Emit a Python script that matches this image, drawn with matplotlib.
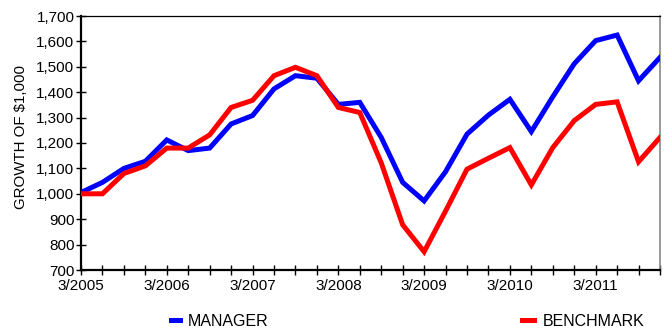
import matplotlib
matplotlib.use("Agg")
import matplotlib.pyplot as plt
from matplotlib.ticker import FuncFormatter

plt.rcParams['font.family'] = ['Liberation Sans', 'DejaVu Sans']

# quarterly, 3/2005 .. 12/2011
quarters = list(range(28))
manager = [1005, 1045, 1100, 1128, 1212, 1170, 1180, 1275, 1308, 1413, 1465, 1455,
           1352, 1360, 1222, 1045, 972, 1087, 1235, 1310, 1372, 1245, 1382, 1512,
           1603, 1625, 1445, 1537]
benchmark = [1000, 1000, 1080, 1110, 1180, 1180, 1232, 1340, 1368, 1465, 1498, 1465,
             1340, 1320, 1122, 878, 772, 932, 1097, 1140, 1182, 1035, 1182, 1288,
             1352, 1362, 1126, 1222]
year_labels = ['3/2005', '3/2006', '3/2007', '3/2008', '3/2009', '3/2010', '3/2011']

fig = plt.figure(figsize=(6.65, 3.32), dpi=100)
ax = fig.add_axes([81 / 665, 62 / 332, 579 / 665, 254 / 332])

l1, = ax.plot(quarters, manager, color='#0000ff', lw=3.6, solid_joinstyle='miter', zorder=3)
l2, = ax.plot(quarters, benchmark, color='#ff0000', lw=3.6, solid_joinstyle='miter', zorder=4)

ax.set_xlim(0, 27)
ax.set_ylim(700, 1700)
ax.set_yticks(range(700, 1701, 100))
ax.yaxis.set_major_formatter(FuncFormatter(lambda v, p: '{:,.0f}'.format(v)))
ax.set_xticks(quarters)
ax.set_xticklabels([year_labels[i // 4] if i % 4 == 0 else '' for i in quarters])
ax.tick_params(direction='inout', length=7.5, width=1, colors='black', labelsize=11)
ax.tick_params(axis='x', pad=2.5)
ax.tick_params(axis='y', pad=1)

for s in ['left', 'bottom']:
    ax.spines[s].set_linewidth(1.6)
ax.spines['top'].set_linewidth(0.9)
ax.spines['right'].set_color('#888888')
ax.spines['right'].set_linewidth(1.2)

ax.set_ylabel('GROWTH OF $1,000', fontsize=10.8)
ax.yaxis.set_label_coords(-0.092, 0.524)

fig.legend(handles=[l1], labels=['MANAGER'], loc='center left', bbox_to_anchor=(171 / 665, 11 / 332),
           frameon=False, fontsize=11.5, handlelength=0.55, handletextpad=0.5,
           borderpad=0, borderaxespad=0)
fig.legend(handles=[l2], labels=['BENCHMARK'], loc='center left', bbox_to_anchor=(522 / 665, 11 / 332),
           frameon=False, fontsize=11.5, handlelength=0.75, handletextpad=0.55,
           borderpad=0, borderaxespad=0)

fig.savefig('out.png', dpi=100)
